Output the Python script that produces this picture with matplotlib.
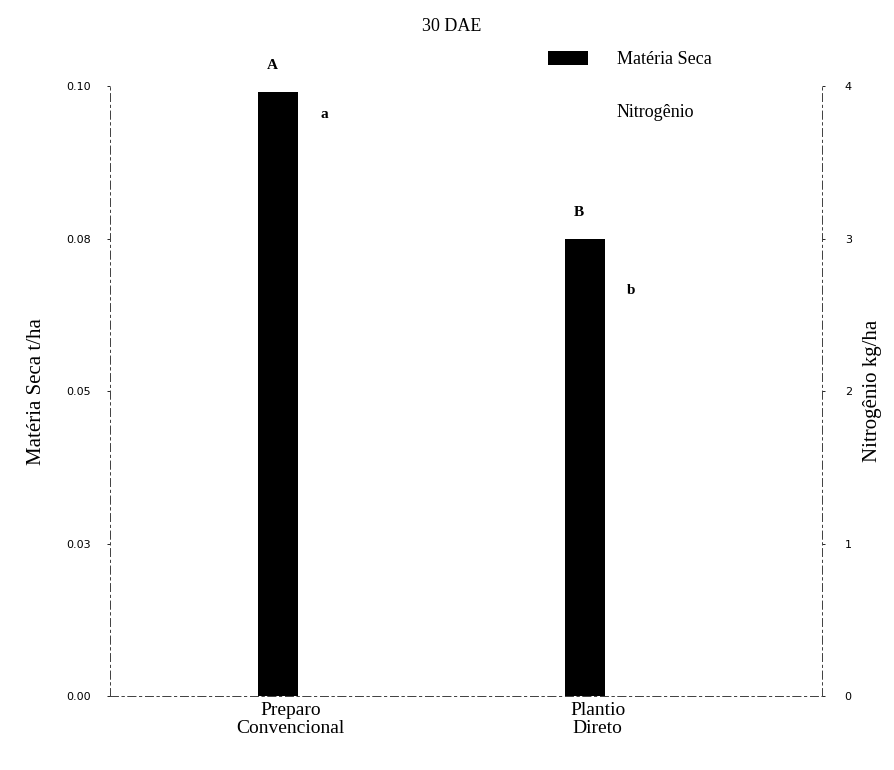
import numpy as np
import matplotlib
matplotlib.use("Agg")
import matplotlib.pyplot as plt
from matplotlib.patches import Patch

plt.rcParams["font.family"] = ["Liberation Serif", "DejaVu Serif"]

# data
sistemas = ["Preparo\nConvencional", "Plantio\nDireto"]
materia_seca = [0.099, 0.075]      # t/ha
nitrogenio = [3.7, 2.55]           # kg/ha
letras_ms = ["A", "B"]
letras_n = ["a", "b"]

x = np.arange(len(sistemas))
w = 0.13

fig = plt.figure(figsize=(8.94, 7.70), dpi=100)
ax = fig.add_axes([0.123, 0.096, 0.797, 0.792])
ax2 = ax.twinx()

ax.bar(x, materia_seca, width=w, color="black", zorder=3)
ax2.bar(x + w, nitrogenio, width=w, color="white", edgecolor="none", zorder=3)

for xi, v, t in zip(x, materia_seca, letras_ms):
    ax.text(xi - 0.02, v + 0.0033, t, ha="center", va="bottom",
            fontsize=11, fontweight="bold")
for xi, v, t in zip(x, nitrogenio, letras_n):
    ax2.text(xi + w + 0.02, v + 0.07, t, ha="center", va="bottom",
             fontsize=11, fontweight="bold")

ax.set_xlim(-0.547, 1.772)
ax.set_ylim(0, 0.1)
ax2.set_ylim(0, 4)

ax.set_yticks([0, 0.025, 0.05, 0.075, 0.1])
ax.set_yticklabels(["0.00", "0.03", "0.05", "0.08", "0.10"],
                   fontsize=8, family="DejaVu Sans")
ax2.set_yticks([0, 1, 2, 3, 4])
ax2.set_yticklabels(["0", "1", "2", "3", "4"], fontsize=8, family="DejaVu Sans")
ax.tick_params(axis="y", length=2, width=0.6, pad=12)
ax2.tick_params(axis="y", length=2, width=0.6, pad=14)

ax.set_xticks(x + 0.04)
ax.set_xticklabels(sistemas, fontsize=14, linespacing=1.1)
ax.tick_params(axis="x", length=0, pad=4)

ax.set_ylabel("Matéria Seca t/ha", fontsize=15, labelpad=14)
ax2.set_ylabel("Nitrogênio kg/ha", fontsize=15, labelpad=8)

ax.set_title("30 DAE", fontsize=13, pad=40, x=0.48)

for a in (ax, ax2):
    a.spines["top"].set_visible(False)
    for s in ("left", "right", "bottom"):
        a.spines[s].set_linestyle((0, (8, 4, 2, 4)))
        a.spines[s].set_linewidth(0.7)
        a.spines[s].set_color("#444444")

handles = [Patch(facecolor="black"), Patch(facecolor="white", edgecolor="none")]
fig.legend(handles, ["Matéria Seca", "Nitrogênio"], loc="upper left",
           bbox_to_anchor=(0.595, 0.955), frameon=False, fontsize=13,
           handlelength=2.2, handleheight=0.8, labelspacing=2.0,
           handletextpad=1.6)

fig.savefig("out.png", dpi=100)
